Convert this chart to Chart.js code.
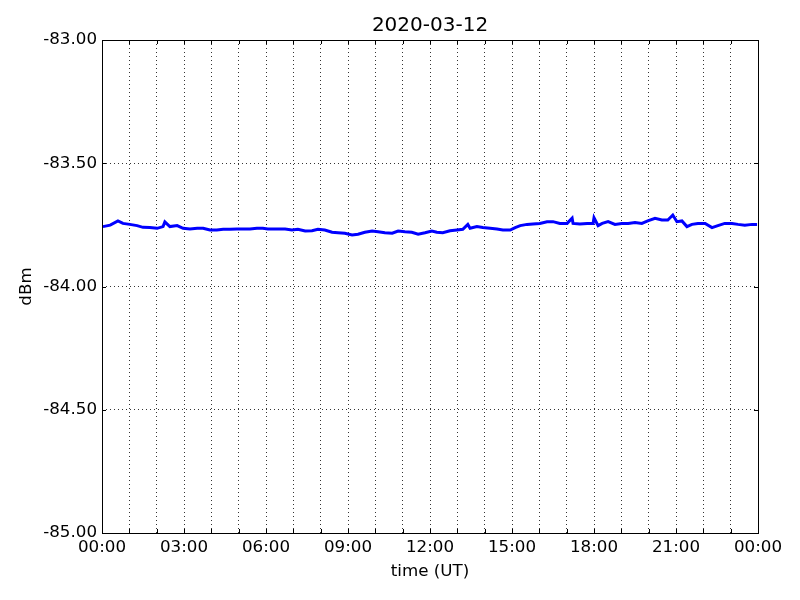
<!DOCTYPE html>
<html>
<head>
<meta charset="utf-8">
<script src="https://cdn.jsdelivr.net/npm/chart.js@4/dist/chart.umd.min.js"></script>
<style>
  html, body { margin: 0; padding: 0; background: #fff; }
  canvas { display: block; }
</style>
</head>
<body>
<canvas id="chart" width="800" height="600"></canvas>
<script>
// time of day in minutes (UT)
const times = [
  2, 18, 35, 46, 61, 77, 90, 105, 121, 134, 138, 149, 165, 178, 193, 209, 222, 237, 252, 266,
  281, 296, 310, 325, 340, 353, 364, 373, 386, 402, 417, 430, 446, 461, 474, 489, 505, 518, 533, 549,
  562, 577, 593, 606, 621, 637, 650, 665, 680, 694, 709, 724, 735, 748, 764, 779, 792, 803, 808, 823,
  836, 852, 867, 880, 896, 907, 918, 933, 946, 961, 977, 990, 1005, 1021, 1032, 1034, 1049, 1065, 1078, 1080,
  1089, 1098, 1111, 1126, 1141, 1155, 1170, 1185, 1198, 1214, 1229, 1242, 1253, 1262, 1273, 1284, 1295, 1308, 1324, 1339,
  1352, 1367, 1383, 1396, 1411, 1427, 1438
];
// received level in dBm
const dbm = [
  -83.757, -83.751, -83.734, -83.744, -83.748, -83.753, -83.760, -83.761, -83.764, -83.757, -83.738, -83.757, -83.753, -83.764, -83.767, -83.764, -83.764, -83.771, -83.771, -83.768,
  -83.768, -83.767, -83.767, -83.767, -83.764, -83.764, -83.767, -83.767, -83.767, -83.767, -83.771, -83.768, -83.775, -83.774, -83.768, -83.771, -83.780, -83.782, -83.784, -83.791,
  -83.788, -83.780, -83.775, -83.778, -83.782, -83.784, -83.775, -83.778, -83.780, -83.788, -83.782, -83.775, -83.780, -83.782, -83.774, -83.771, -83.768, -83.748, -83.764, -83.757,
  -83.761, -83.764, -83.767, -83.771, -83.771, -83.761, -83.753, -83.748, -83.746, -83.744, -83.737, -83.737, -83.744, -83.744, -83.723, -83.744, -83.746, -83.744, -83.744, -83.721,
  -83.753, -83.744, -83.737, -83.748, -83.744, -83.744, -83.740, -83.744, -83.734, -83.723, -83.730, -83.730, -83.710, -83.737, -83.734, -83.757, -83.748, -83.744, -83.744, -83.761,
  -83.753, -83.744, -83.744, -83.748, -83.751, -83.748, -83.748
];
const yTicks = [-85, -84.5, -84, -83.5, -83];
const xLabelEvery = 180; // label every 3 hours, grid every hour

const font = 'DejaVu Sans';

function hhmm(m) {
  const h = Math.floor(m / 60) % 24;
  return String(h).padStart(2, '0') + ':00';
}

// frame + inward ticks like matplotlib classic, title centred over the axes
const framePlugin = {
  id: 'frame',
  afterLayout(chart) {
    const t = chart.titleBlock;
    if (t) {
      t.left = chart.chartArea.left;
      t.right = chart.chartArea.right;
      t.width = t.right - t.left;
    }
  },
  afterDraw(chart) {
    const { ctx, chartArea: a, scales } = chart;
    ctx.save();
    ctx.strokeStyle = '#000';
    ctx.lineWidth = 1;
    ctx.beginPath();
    scales.x.ticks.forEach(t => {
      const px = Math.round(scales.x.getPixelForValue(t.value)) + 0.5;
      ctx.moveTo(px, a.bottom); ctx.lineTo(px, a.bottom - 4);
      ctx.moveTo(px, a.top); ctx.lineTo(px, a.top + 4);
    });
    yTicks.forEach(v => {
      const py = Math.round(scales.y.getPixelForValue(v)) + 0.5;
      ctx.moveTo(a.left, py); ctx.lineTo(a.left + 4, py);
      ctx.moveTo(a.right, py); ctx.lineTo(a.right - 4, py);
    });
    ctx.stroke();
    ctx.strokeRect(a.left + 0.5, a.top + 0.5, a.right - a.left, a.bottom - a.top);
    ctx.restore();
  }
};

new Chart(document.getElementById('chart'), {
  type: 'line',
  data: {
    datasets: [{
      data: times.map((t, i) => ({ x: t, y: dbm[i] })),
      borderColor: '#0000ff',
      borderWidth: 3,
      pointRadius: 0,
      tension: 0,
      fill: false
    }]
  },
  options: {
    responsive: false,
    animation: false,
    layout: { padding: { top: 0, right: 42, bottom: 0, left: 0 } },
    plugins: {
      legend: { display: false },
      tooltip: { enabled: false },
      title: {
        display: true,
        text: '2020-03-12',
        color: '#000',
        font: { family: font, size: 20, weight: 'normal' },
        padding: { top: 14, bottom: 2 }
      }
    },
    scales: {
      x: {
        type: 'linear',
        min: 0,
        max: 1440,
        afterFit(s) { s.height = 67; },
        afterBuildTicks(s) {
          s.ticks = [];
          for (let m = 0; m <= 1440; m += 60) s.ticks.push({ value: m });
        },
        ticks: {
          autoSkip: false,
          maxRotation: 0,
          padding: 5,
          color: '#000',
          font: { family: font, size: 16.7 },
          callback: v => (v % xLabelEvery === 0 ? hhmm(v) : '')
        },
        grid: { color: '#000', lineWidth: 0.8, drawTicks: false },
        border: { display: false, dash: [1, 3] },
        title: {
          display: true,
          text: 'time (UT)',
          color: '#000',
          font: { family: font, size: 16.7 },
          padding: { top: 0, bottom: 18 }
        }
      },
      y: {
        min: -85,
        max: -83,
        afterFit(s) { s.width = 102; },
        afterBuildTicks(s) { s.ticks = yTicks.map(v => ({ value: v })); },
        ticks: {
          padding: 5,
          color: '#000',
          font: { family: font, size: 16.7 },
          callback: v => v.toFixed(2)
        },
        grid: { color: '#000', lineWidth: 0.8, drawTicks: false },
        border: { display: false, dash: [1, 3] },
        title: {
          display: true,
          text: 'dBm',
          color: '#000',
          font: { family: font, size: 16.7 },
          padding: { top: 17, bottom: 0 }
        }
      }
    }
  },
  plugins: [framePlugin]
});
</script>
</body>
</html>
